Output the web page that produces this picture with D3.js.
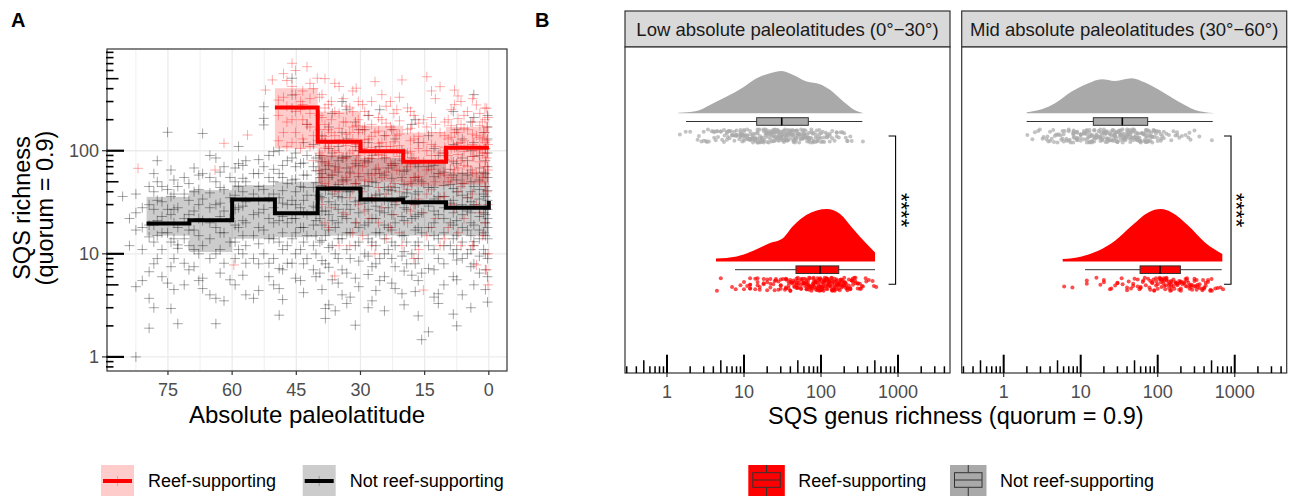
<!DOCTYPE html>
<html>
<head>
<meta charset="utf-8">
<script src="https://cdn.jsdelivr.net/npm/d3@7"></script>
<style>
  body { margin: 0; background: #fff; }
  svg { display: block; font-family: "Liberation Sans", Arial, sans-serif; }
</style>
</head>
<body>
<svg id="fig" width="1289" height="496"></svg>
<script>
// ---------- data ----------
// panel A: SQS richness per collection, grouped by absolute paleolatitude
const nonReefCols = [
  [0.3, [3.4, 6, 9, 14, 18, 22, 27, 33, 41, 55, 70, 95, 130, 170, 220]],
  [0.8, [4.5, 7, 10, 15, 20, 24, 29, 36, 45, 60, 80, 105]],
  [1.2, [11, 16, 25, 38, 62, 150]],
  [2.2, [6.5, 9.5, 14, 17, 23, 28, 34, 42, 52, 68, 90]],
  [3.5, [5, 8, 12, 13.1, 19, 30, 45, 88, 120, 210, 350]],
  [4.2, [3, 7.5, 11, 15, 20, 25, 32, 40, 50, 65, 100, 190]],
  [5, [10, 17, 26, 35, 58, 80]],
  [6.2, [4, 9, 13, 18, 24, 30, 37, 48, 60, 85, 130]],
  [7.5, [2, 5.6, 8.7, 11, 15, 21, 28, 40, 52, 75, 110, 160]],
  [8.3, [2.6, 6, 10, 14, 19, 25, 33, 43, 58, 78, 115, 240]],
  [9, [12, 20, 31, 47, 66]],
  [10.5, [5, 8, 12, 16, 22, 28, 36, 46, 62, 95]],
  [11.8, [3.3, 4.1, 9, 14, 24, 36, 60, 90]],
  [12.8, [3.8, 7, 11, 15, 20, 26, 34, 44, 56, 72, 105]],
  [14.1, [1.75, 7.2, 12, 18, 29, 44, 70, 140]],
  [15.7, [1.47, 6.5, 16, 25, 50]],
  [16.5, [2.5, 5.5, 9, 13, 18, 24, 31, 40, 52, 70, 120]],
  [17.2, [4.3, 8, 12, 17, 23, 30, 38, 55, 75, 200]],
  [18, [6.2, 10, 22, 33, 48, 85, 180]],
  [19.2, [8, 13, 27, 39, 65]],
  [19.8, [3.2, 6.8, 10.5, 15, 21, 28, 36, 47, 63, 95]],
  [20.3, [4.1, 9.5, 15, 23, 35, 55, 100]],
  [21.9, [4.6, 7.5, 12, 20, 30, 44, 75, 130]],
  [22.7, [5.2, 9, 13, 17, 24, 32, 41, 54, 72, 160]],
  [23.5, [11, 18, 28, 42, 68]],
  [24.4, [2.8, 6, 10, 14, 19, 25, 33, 44, 58, 85, 140]],
  [25.5, [5.5, 9, 16, 26, 38, 60, 110, 250]],
  [26.4, [4.4, 8, 12, 16, 22, 29, 37, 49, 66, 100]],
  [27.3, [3.5, 7.5, 13, 22, 34, 50, 90]],
  [28.2, [3, 6.3, 9.5, 14, 20, 27, 35, 45, 60, 78, 120, 220]],
  [29, [10, 19, 31, 46, 80, 160]],
  [30.4, [4.8, 8.5, 13, 18, 25, 33, 43, 56, 72, 100, 160]],
  [31.2, [2.03, 5.8, 12, 20, 32, 48, 75, 110, 190]],
  [32.4, [3.8, 9, 16, 27, 40, 62]],
  [33.2, [3.3, 6.5, 11, 16, 22, 30, 40, 52, 68, 88, 130, 250]],
  [34.3, [4, 7, 14, 23, 35, 52, 85, 150, 300]],
  [35.2, [5.2, 9, 14, 20, 27, 36, 47, 62, 80, 110]],
  [35.9, [2.8, 10, 18, 30, 45, 70]],
  [36.6, [5.6, 12, 21, 38, 58, 95, 230]],
  [37.4, [3.2, 7.4, 11.5, 17, 24, 32, 42, 55, 72, 105, 170]],
  [38.2, [2.36, 2.95, 8, 15, 26, 41, 66, 120]],
  [39, [4.5, 8.6, 13.5, 19, 26, 35, 46, 60, 78, 140]],
  [39.5, [6.5, 13, 22, 36, 55, 90]],
  [40.4, [6, 10, 15, 21, 28, 37, 49, 64, 85]],
  [41, [7, 12, 19, 29, 44, 70, 115]],
  [42.5, [9, 15, 24, 37, 58, 90, 180]],
  [43.3, [4.2, 8, 13, 18, 25, 33, 44, 58, 76, 120]],
  [44, [5.5, 11, 18, 28, 45, 75]],
  [45.2, [5.8, 10, 16, 22, 30, 40, 53, 70, 95]],
  [46, [8.1, 14, 22, 33, 52, 85, 258, 347, 505]],
  [47.1, [8.1, 12, 20, 30, 48, 80]],
  [48.2, [3.6, 7, 11, 16, 23, 31, 41, 55, 72]],
  [49, [2.54, 4.6, 7.2, 13, 21, 35, 60, 100]],
  [50.3, [5, 9, 14, 20, 28, 38, 50, 66, 98]],
  [51.4, [6, 8.1, 14, 22, 35, 55, 90]],
  [52.6, [10, 17, 27, 42, 70, 178, 206, 267]],
  [53.8, [4.4, 8, 12.5, 18, 25, 33, 45, 60, 82]],
  [55, [3.7, 9, 15, 24, 38, 60]],
  [56.8, [4, 8.1, 12, 20, 32, 50, 80]],
  [57.5, [6.2, 10, 15, 21, 29, 40, 54, 72]],
  [58.5, [11, 18, 28, 45, 75, 110]],
  [59.3, [5, 9, 13, 19, 27, 37, 50, 68]],
  [60.5, [5.6, 13, 22, 35, 55]],
  [61.9, [3.5, 8.1, 16, 26, 42, 70]],
  [62.8, [6.5, 11, 16, 23, 31, 44, 62]],
  [63.8, [2.1, 3.7, 10, 18, 30, 50, 85]],
  [65.2, [4, 9, 14, 20, 28, 39, 55, 90]],
  [66.9, [4.6, 5.8, 12, 21, 34, 60, 147]],
  [67.8, [5.5, 10, 15, 22, 30, 42, 58]],
  [68.9, [7.5, 11, 17, 26, 40, 68]],
  [70.1, [7, 12, 17, 24, 33, 48]],
  [71.2, [5, 8.1, 14, 22, 38, 55]],
  [72.7, [2.1, 11.3, 12.2, 18, 28, 45]],
  [73.6, [4.5, 9, 14, 20, 27, 38, 52]],
  [74.3, [2.95, 7.5, 13, 24, 36, 65]],
  [75.1, [5.2, 16, 27, 42, 151]],
  [76.4, [6, 11, 16, 23, 32, 45]],
  [77.5, [9, 15, 21, 33, 50, 80]],
  [78.3, [3, 8, 13, 19, 27, 40, 60]],
  [79.4, [1.9, 3.7, 6.7, 14.6, 19, 30, 45]],
  [81, [5.5, 11, 18, 28]],
  [82.5, [1, 4.8, 17, 25, 38]],
  [84, [12, 22]],
  [85.6, [36]]
];
const reefCols = [
  [0.2, [5, 10, 30, 65, 115, 210]],
  [0.5, [7, 40, 85, 125, 170, 258]],
  [0.9, [20, 45, 70, 95, 120, 150, 200, 260]],
  [1.5, [15, 55, 95, 130, 190]],
  [2.1, [25, 50, 78, 105, 135, 175, 230]],
  [2.9, [7.8, 30, 60, 100, 140, 278]],
  [3.8, [12, 38, 62, 88, 115, 145, 190, 320]],
  [5, [35, 70, 110, 160, 240]],
  [5.8, [22, 48, 72, 98, 125, 165, 220]],
  [6.5, [12, 45, 80, 120, 180, 300]],
  [7.2, [16, 40, 68, 92, 118, 150, 205, 340]],
  [8, [28, 65, 107, 150, 280, 387]],
  [8.8, [30, 55, 80, 104, 135, 175, 250]],
  [9.5, [18, 50, 90, 130, 200]],
  [10.3, [14, 36, 58, 82, 108, 140, 190]],
  [11.4, [12, 35, 60, 95, 150, 418]],
  [12.5, [22, 50, 80, 110, 180, 320]],
  [13.4, [18, 42, 66, 90, 115, 150, 210, 380]],
  [14.5, [15, 38, 65, 100, 170, 522]],
  [15.3, [4.45, 25, 48, 78, 120, 200]],
  [16.4, [11, 34, 56, 80, 105, 138, 185]],
  [17.5, [9, 30, 55, 85, 130, 220]],
  [18.3, [26, 50, 74, 98, 125, 165, 240]],
  [19, [20, 42, 70, 95, 160, 260]],
  [20.3, [12, 48, 80, 486]],
  [20.9, [16, 40, 64, 88, 112, 145, 195, 330]],
  [21.5, [32, 65, 100, 140, 250]],
  [22.2, [24, 48, 72, 96, 122, 160, 230]],
  [23, [18, 45, 75, 110, 170, 300]],
  [24, [14, 38, 62, 86, 110, 140, 185, 270]],
  [25, [28, 55, 90, 120, 200, 350]],
  [25.8, [20, 44, 68, 92, 118, 155, 210]],
  [26.6, [10, 35, 60, 99, 150, 468]],
  [27.4, [12, 35, 58, 84, 108, 138, 180, 300]],
  [28, [22, 50, 85, 130, 220]],
  [29, [26, 52, 76, 100, 128, 170, 240]],
  [29.5, [15, 40, 70, 105, 160, 280]],
  [30.5, [30, 60, 90, 120, 150, 200, 300]],
  [31, [20, 48, 80, 115, 175, 404]],
  [31.8, [16, 42, 70, 100, 130, 170, 240, 380]],
  [32.5, [12, 35, 60, 95, 150, 260]],
  [33.4, [24, 55, 85, 112, 145, 190, 270]],
  [34, [25, 50, 85, 122, 190, 320]],
  [35, [12, 40, 68, 96, 128, 165, 230, 420]],
  [36, [6.1, 40, 65, 100, 140, 240, 450]],
  [36.8, [28, 58, 88, 118, 150, 200, 300]],
  [37.5, [18, 45, 75, 110, 160, 280]],
  [38.3, [20, 48, 78, 106, 138, 180, 260, 500]],
  [39, [30, 55, 90, 130, 210, 350]],
  [39.6, [34, 64, 95, 125, 160, 220, 330]],
  [40.1, [505]],
  [41, [80, 140, 400]],
  [41.8, [110, 170, 230, 320, 450]],
  [42.5, [180, 653]],
  [43.5, [130, 200, 280, 380]],
  [44, [105, 250, 300]],
  [45.2, [150, 240, 350, 600]],
  [46, [120, 200, 420, 705]],
  [47.2, [110, 190, 270, 480]],
  [48, [150, 330, 560]],
  [49.2, [125, 220, 310]],
  [50.6, [486]],
  [52.2, [388]],
  [56.4, [142]],
  [59.6, [7.8]],
  [61.9, [118]],
  [64, [65]],
  [82, [67.5]]
];

// binned medians (step lines) and interquartile bands
const nonReefStepLat = [80, 70, 60, 50, 40, 30, 20, 10, 0];
const nonReefMedian = [19.7, 21.2, 33.7, 24.7, 43, 33.7, 31.6, 28, 32.5];
const nonReefLo = [15, 10.4, 14, 14.5, 15, 15, 15, 15];
const nonReefHi = [35.7, 41.5, 46.4, 50, 91, 85, 80, 62];
const reefStepLat = [50, 40, 30, 20, 10, 0];
const reefMedian = [262, 122, 99, 78, 107, 107];
const reefLo = [105, 46, 50, 45, 47];
const reefHi = [404, 240, 175, 150, 170];

// panel B: densities [richness, scaled density] and box stats [lo, q1, med, q3, hi]
const lowGrayDens = [[1.40, 0.01], [2.43, 0.044], [3.61, 0.159], [5.96, 0.317], [9.8, 0.497], [14.6, 0.669], [21.8, 0.765], [30.9, 0.809], [43.7, 0.732], [65.2, 0.604], [97, 0.554], [131, 0.446], [195, 0.222], [262, 0.076], [348, 0.005]];
const lowReefDens = [[4.33, 0.057], [8.04, 0.096], [13.2, 0.203], [21.8, 0.35], [30.9, 0.426], [43.7, 0.681], [65.2, 0.891], [119, 1], [177, 0.904], [262, 0.618], [393, 0.331], [503, 0.172]];
const midGrayDens = [[1.99, 0.019], [3.12, 0.076], [4.64, 0.191], [7.64, 0.413], [12.6, 0.574], [18.7, 0.65], [27.9, 0.618], [45.9, 0.669], [68.5, 0.585], [113, 0.413], [185, 0.222], [305, 0.063], [527, 0.005]];
const midReefDens = [[5.84, 0.044], [10.3, 0.096], [16.9, 0.203], [27.9, 0.394], [45.9, 0.681], [75.5, 0.937], [110, 1], [152, 0.937], [250, 0.681], [411, 0.363], [690, 0.14]];
const lowGrayBox = [1.77, 14.6, 30.9, 68.4, 344];
const lowReefBox = [7.64, 47.3, 97, 170, 503];
const midGrayBox = [1.99, 14.6, 34.7, 74.1, 518];
const midReefBox = [11.4, 59, 107, 197, 678];
const facetLabels = ["Low absolute paleolatitudes (0°−30°)", "Mid absolute paleolatitudes (30°−60°)"];
const facetRanges = [[0, 30], [30, 60]];
const sigX = [930, 895];
const groups = ["Not reef-supporting", "Reef-supporting"];

// ---------- helpers ----------
const svg = d3.select("#fig");
const TXT = "#4d4d4d", LINE = "#333333";
const TITLE = 23.5, TICK = 18, LEG = 18;
const nonReefPts = nonReefCols.flatMap(([lat, vs]) => vs.map(v => [lat, v]));
const reefPts = reefCols.flatMap(([lat, vs]) => vs.map(v => [lat, v]));
const jit = i => ((i * 37) % 29) / 28 - 0.5;

function logTicks(lo, hi) {
  const out = [];
  for (let e = -1; e <= 3; e++) for (let k = 1; k <= 9; k++) {
    const v = k * Math.pow(10, e);
    if (v >= lo && v <= hi) out.push({ v, k });
  }
  return out;
}

// ============================================================
// Panel A
// ============================================================
const A = { l: 107, r: 507, t: 49, b: 371 };
const xA = d3.scaleLinear().domain([89.25, -4.25]).range([A.l, A.r]);
const yA = d3.scaleLog().domain([0.73, 970]).range([A.b, A.t]);
const gA = svg.append("g");

svg.append("text").attr("x", 11).attr("y", 27).attr("font-size", 20).attr("font-weight", 700).text("A");

gA.append("rect").attr("x", A.l).attr("y", A.t).attr("width", A.r - A.l).attr("height", A.b - A.t).attr("fill", "#fff");
gA.selectAll(".gminor").data([82.5, 67.5, 52.5, 37.5, 22.5, 7.5]).join("line")
  .attr("x1", d => xA(d)).attr("x2", d => xA(d)).attr("y1", A.t).attr("y2", A.b)
  .attr("stroke", "#ebebeb").attr("stroke-width", 0.8);
gA.selectAll(".gmajx").data([75, 60, 45, 30, 15, 0]).join("line")
  .attr("x1", d => xA(d)).attr("x2", d => xA(d)).attr("y1", A.t).attr("y2", A.b)
  .attr("stroke", "#ebebeb").attr("stroke-width", 1.3);
gA.selectAll(".gmajy").data([1, 10, 100]).join("line")
  .attr("x1", A.l).attr("x2", A.r).attr("y1", d => yA(d)).attr("y2", d => yA(d))
  .attr("stroke", "#ebebeb").attr("stroke-width", 1.3);

svg.append("clipPath").attr("id", "clipA").append("rect")
  .attr("x", A.l).attr("y", A.t).attr("width", A.r - A.l).attr("height", A.b - A.t);
const plotA = gA.append("g").attr("clip-path", "url(#clipA)");

// crosses
const cross = "M-5,0H5M0,-5V5";
plotA.append("g").selectAll("path").data(nonReefPts).join("path")
  .attr("d", cross).attr("transform", d => `translate(${xA(d[0])},${yA(d[1])})`)
  .attr("stroke", "#000").attr("stroke-opacity", 0.35).attr("stroke-width", 1).attr("fill", "none");
plotA.append("g").selectAll("path").data(reefPts).join("path")
  .attr("d", cross).attr("transform", d => `translate(${xA(d[0])},${yA(d[1])})`)
  .attr("stroke", "#ff0000").attr("stroke-opacity", 0.32).attr("stroke-width", 1).attr("fill", "none");

// bands
function bands(lats, lo, hi, color) {
  plotA.append("g").selectAll("rect").data(lo.map((v, i) => i)).join("rect")
    .attr("x", i => xA(lats[i])).attr("width", i => xA(lats[i + 1]) - xA(lats[i]))
    .attr("y", i => yA(hi[i])).attr("height", i => yA(lo[i]) - yA(hi[i]))
    .attr("fill", color).attr("fill-opacity", 0.2);
}
bands(nonReefStepLat, nonReefLo, nonReefHi, "#000");
bands(reefStepLat, reefLo, reefHi, "#ff0000");

// step lines
const step = d3.line().curve(d3.curveStepAfter).x(d => xA(d[0])).y(d => yA(d[1]));
plotA.append("path").datum(nonReefStepLat.map((l, i) => [l, nonReefMedian[i]]))
  .attr("d", step).attr("fill", "none").attr("stroke", "#000").attr("stroke-width", 4);
plotA.append("path").datum(reefStepLat.map((l, i) => [l, reefMedian[i]]))
  .attr("d", step).attr("fill", "none").attr("stroke", "#ff0000").attr("stroke-width", 4);

gA.append("rect").attr("x", A.l).attr("y", A.t).attr("width", A.r - A.l).attr("height", A.b - A.t)
  .attr("fill", "none").attr("stroke", LINE).attr("stroke-width", 1.2);

// log ticks on left
gA.selectAll(".lt").data(logTicks(0.73, 970)).join("line")
  .attr("x1", A.l - 1).attr("x2", d => A.l + (d.k === 1 ? 17 : d.k === 5 ? 11.5 : 6.5))
  .attr("y1", d => yA(d.v)).attr("y2", d => yA(d.v))
  .attr("stroke", "#000").attr("stroke-width", d => d.k === 1 ? 2.2 : 1.6);
gA.selectAll(".yt").data([1, 10, 100]).join("line")
  .attr("x1", A.l - 5).attr("x2", A.l).attr("y1", d => yA(d)).attr("y2", d => yA(d))
  .attr("stroke", LINE).attr("stroke-width", 1.2);
gA.selectAll(".ytl").data([1, 10, 100]).join("text")
  .attr("x", A.l - 8).attr("y", d => yA(d)).attr("dy", "0.36em").attr("text-anchor", "end")
  .attr("font-size", TICK).attr("fill", TXT).text(d => d);
gA.selectAll(".xt").data([75, 60, 45, 30, 15, 0]).join("line")
  .attr("x1", d => xA(d)).attr("x2", d => xA(d)).attr("y1", A.b).attr("y2", A.b + 4)
  .attr("stroke", LINE).attr("stroke-width", 1.2);
gA.selectAll(".xtl").data([75, 60, 45, 30, 15, 0]).join("text")
  .attr("x", d => xA(d)).attr("y", 396).attr("text-anchor", "middle")
  .attr("font-size", TICK).attr("fill", TXT).text(d => d);
gA.append("text").attr("x", (A.l + A.r) / 2).attr("y", 423).attr("text-anchor", "middle")
  .attr("font-size", 24).attr("fill", "#000").text("Absolute paleolatitude");
const yTitle = gA.append("text").attr("transform", `translate(0,${(A.t + A.b) / 2 - 2}) rotate(-90)`)
  .attr("text-anchor", "middle").attr("font-size", TITLE).attr("fill", "#000");
yTitle.append("tspan").attr("x", 0).attr("y", 30).text("SQS richness");
yTitle.append("tspan").attr("x", 0).attr("y", 53).text("(quorum = 0.9)");

// legend A
const legA = svg.append("g");
[["Reef-supporting", "#ff0000", 101], ["Not reef-supporting", "#000", 302.7]].forEach(([lab, col, x]) => {
  legA.append("rect").attr("x", x).attr("y", 465).attr("width", 33).attr("height", 33)
    .attr("fill", col).attr("fill-opacity", 0.2);
  legA.append("path").attr("d", `M${x + 16.5},${476}V${486}M${x + 11.5},481H${x + 21.5}`)
    .attr("stroke", col).attr("stroke-opacity", 0.25).attr("stroke-width", 1);
  legA.append("line").attr("x1", x + 2).attr("x2", x + 31).attr("y1", 481).attr("y2", 481)
    .attr("stroke", col).attr("stroke-width", 4);
  legA.append("text").attr("x", x + 47).attr("y", 487).attr("font-size", LEG).attr("fill", "#000").text(lab);
});

// ============================================================
// Panel B
// ============================================================
svg.append("text").attr("x", 535).attr("y", 27).attr("font-size", 20).attr("font-weight", 700).text("B");

const B = { t: 47, b: 373, w: 325, stripT: 11 };
const facetLefts = [625, 961.7];
const xB = d3.scaleLog().domain([0.285, 4730]).range([0, B.w]);
const yB = d3.scalePoint().domain(groups).range([121.5, 269.7]);
const hB = d3.scaleLinear().domain([0, 1]).range([0, 52.3]);
const colors = { "Not reef-supporting": "#a9a9a9", "Reef-supporting": "#ff0000" };
const densSets = [[lowGrayDens, lowReefDens], [midGrayDens, midReefDens]];
const boxSets = [[lowGrayBox, lowReefBox], [midGrayBox, midReefBox]];

facetLefts.forEach((left, fi) => {
  const g = svg.append("g").attr("transform", `translate(${left},0)`);
  // strip
  g.append("rect").attr("x", 0).attr("y", B.stripT).attr("width", B.w).attr("height", B.t - B.stripT)
    .attr("fill", "#d9d9d9").attr("stroke", LINE).attr("stroke-width", 1.2);
  g.append("text").attr("x", B.w / 2).attr("y", (B.stripT + B.t) / 2).attr("dy", "0.36em")
    .attr("text-anchor", "middle").attr("font-size", 18.5).attr("fill", "#1a1a1a").text(facetLabels[fi]);
  g.append("rect").attr("x", 0).attr("y", B.t).attr("width", B.w).attr("height", B.b - B.t).attr("fill", "#fff");

  const [lo, hi] = facetRanges[fi];
  groups.forEach((grp, gi) => {
    const yc = yB(grp);
    const base = yc - 8.3;
    const col = colors[grp];
    // density slab
    const area = d3.area().curve(d3.curveMonotoneX)
      .x(d => xB(d[0])).y0(base).y1(d => base - hB(d[1]));
    g.append("path").datum(densSets[fi][gi]).attr("d", area).attr("fill", col);
    // box
    const bx = boxSets[fi][gi];
    g.append("line").attr("x1", xB(bx[0])).attr("x2", xB(bx[4])).attr("y1", yc).attr("y2", yc)
      .attr("stroke", LINE).attr("stroke-width", 1);
    g.append("rect").attr("x", xB(bx[1])).attr("width", xB(bx[3]) - xB(bx[1]))
      .attr("y", yc - 3.8).attr("height", 7.6).attr("fill", col).attr("stroke", LINE).attr("stroke-width", 1);
    g.append("line").attr("x1", xB(bx[2])).attr("x2", xB(bx[2])).attr("y1", yc - 3.8).attr("y2", yc + 3.8)
      .attr("stroke", "#000").attr("stroke-width", 1.6);
    // raw points
    const pts = (gi === 0 ? nonReefPts : reefPts).filter(p => p[0] >= lo && p[0] < hi);
    g.append("g").selectAll("circle").data(pts).join("circle")
      .attr("cx", d => xB(d[1])).attr("cy", (d, i) => yc + 14.5 + 13 * jit(i + gi * 11 + fi * 5))
      .attr("r", 2).attr("fill", col).attr("fill-opacity", 0.7);
  });

  // significance bracket
  const bxX = xB(sigX[fi]);
  const yTop = yB(groups[0]) + 14.5, yBot = yB(groups[1]) + 14.5;
  g.append("path").attr("d", `M${bxX - 7},${yTop}H${bxX}V${yBot}H${bxX - 7}`)
    .attr("fill", "none").attr("stroke", "#000").attr("stroke-width", 1.1);
  g.append("text").attr("transform", `translate(${bxX - 2},${(yTop + yBot) / 2}) rotate(90)`)
    .attr("text-anchor", "middle").attr("font-size", 22).attr("fill", "#000").text("****");

  // border
  g.append("rect").attr("x", 0).attr("y", B.t).attr("width", B.w).attr("height", B.b - B.t)
    .attr("fill", "none").attr("stroke", LINE).attr("stroke-width", 1.2);
  // log ticks along bottom
  g.selectAll(".lt").data(logTicks(0.285, 4730)).join("line")
    .attr("x1", d => xB(d.v)).attr("x2", d => xB(d.v))
    .attr("y1", B.b).attr("y2", d => B.b - (d.k === 1 ? 18.3 : d.k === 5 ? 12.7 : 6.7))
    .attr("stroke", "#000").attr("stroke-width", d => d.k === 1 ? 2 : 1.5);
  g.selectAll(".xt").data([1, 10, 100, 1000]).join("line")
    .attr("x1", d => xB(d)).attr("x2", d => xB(d)).attr("y1", B.b).attr("y2", B.b + 4)
    .attr("stroke", LINE).attr("stroke-width", 1.2);
  g.selectAll(".xtl").data([1, 10, 100, 1000]).join("text")
    .attr("x", d => xB(d)).attr("y", 398).attr("text-anchor", "middle")
    .attr("font-size", TICK).attr("fill", TXT).text(d => d);
});

svg.append("text").attr("x", (facetLefts[0] + facetLefts[1] + B.w) / 2).attr("y", 424)
  .attr("text-anchor", "middle").attr("font-size", TITLE).attr("fill", "#000")
  .text("SQS genus richness (quorum = 0.9)");

// legend B
const legB = svg.append("g");
[["Reef-supporting", "#ff0000", 748.3], ["Not reef-supporting", "#a9a9a9", 950]].forEach(([lab, col, x]) => {
  legB.append("rect").attr("x", x).attr("y", 465).attr("width", 36.5).attr("height", 33).attr("fill", col);
  legB.append("path").attr("d", `M${x + 18.25},465V472.7M${x + 18.25},487.3V498`)
    .attr("stroke", LINE).attr("stroke-width", 1);
  legB.append("rect").attr("x", x + 4.5).attr("y", 472.7).attr("width", 27.5).attr("height", 14.6)
    .attr("fill", col).attr("stroke", LINE).attr("stroke-width", 1);
  legB.append("line").attr("x1", x + 4.5).attr("x2", x + 32).attr("y1", 480).attr("y2", 480)
    .attr("stroke", LINE).attr("stroke-width", 1);
  legB.append("text").attr("x", x + 50).attr("y", 487).attr("font-size", LEG).attr("fill", "#000").text(lab);
});
</script>
</body>
</html>
